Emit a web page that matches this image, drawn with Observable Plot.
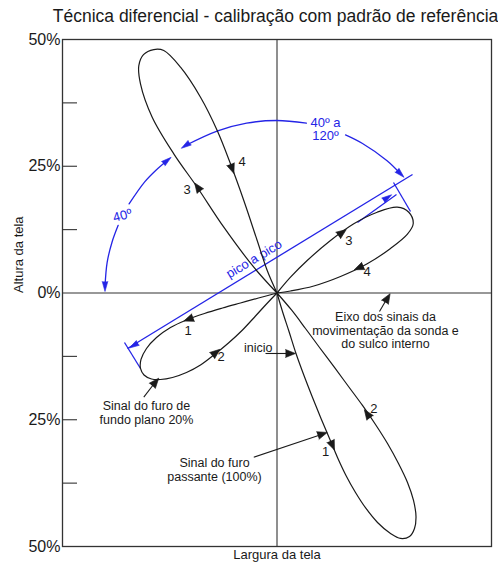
<!DOCTYPE html>
<html><head><meta charset="utf-8">
<script src="https://cdn.jsdelivr.net/npm/d3@7"></script>
<script src="https://cdn.jsdelivr.net/npm/@observablehq/plot@0.6"></script>
<style>body{margin:0;background:#fff;}</style>
</head><body><div id="chart"></div>
<script>
// ---- data (screen width / height in %) ----
const titleText = "Técnica diferencial - calibração com padrão de referência";
const xLabel = "Largura da tela";
const yLabel = "Altura da tela";
const yTickValues = [50, 25, 0, -25, -50];
const yTickLabels = ["50%", "25%", "0%", "25%", "50%"];
const yMinorTicks = [37.5, 25, 12.5, -12.5, -25, -37.5];

// lobes traced by the probe signals [x, y]
const lobeUpperLeft = [[0,0],[-5.41,5.09],[-12.40,12.98],[-18.60,20.86],[-24.06,27.45],[-29.09,34.67],[-31.82,41.25],[-32.21,44.86],[-31.12,47.03],[-28.72,48.02],[-26.39,47.82],[-22.49,44.53],[-17.83,38.61],[-13.94,32.05],[-10.84,25.48],[-7.74,18.24],[-4.62,10.35],[-2.28,4.44],[0,0]];
const lobeRight = [[0,0],[3.15,3.12],[7.04,6.41],[12.47,10.35],[17.90,13.65],[23.36,15.93],[28.02,16.92],[30.72,15.93],[31.75,13.65],[30.35,11.54],[26.46,8.78],[21.03,5.76],[14.80,3.25],[8.58,1.38],[3.15,0.39],[0,0]];
const lobeLowerLeft = [[0,0],[-4.31,-0.99],[-8.51,-1.97],[-12.70,-2.96],[-16.90,-4.04],[-21.10,-5.32],[-24.83,-6.80],[-28.09,-8.78],[-30.42,-10.94],[-31.70,-13.11],[-31.82,-14.89],[-31.00,-16.17],[-29.25,-16.96],[-27.16,-17.06],[-24.36,-16.66],[-21.10,-15.68],[-17.83,-14.20],[-14.57,-12.13],[-11.31,-9.86],[-8.04,-7.30],[-5.01,-4.54],[-2.45,-2.17],[0,0]];
const lobeLower = [[0,0],[1.28,-3.65],[2.80,-7.59],[4.43,-11.93],[6.29,-16.27],[8.28,-20.61],[10.26,-24.75],[12.24,-28.70],[14.10,-32.44],[16.08,-35.99],[18.30,-39.35],[20.75,-42.50],[23.43,-45.26],[26.46,-47.43],[28.79,-48.41],[30.89,-48.02],[32.05,-46.44],[32.40,-44.07],[31.82,-40.92],[30.42,-37.37],[28.32,-33.62],[25.76,-29.68],[22.96,-25.93],[19.93,-22.18],[16.67,-18.44],[13.40,-14.69],[9.91,-10.75],[6.64,-7.00],[3.38,-3.35],[0,0]];

// direction arrowheads on the lobes [x, y, heading°]
const arrowheadsBlack = [[-18.53,20.90,-35],[-10.44,24.49,160],[15.20,11.93,54],[19.07,4.97,-113],[-20.63,-5.19,-110],[-14.22,-11.73,51],[12.94,-30.07,157],[21.03,-23.82,-35]];
const stepLabels = ["3","4","3","4","1","2","1","2"];
const stepX = [-20.93,-8.11,16.74,21.03,-20.70,-13.01,11.31,22.56];
const stepY = [20.35,25.79,10.35,4.10,-7.40,-12.52,-31.39,-22.84];

// callouts
const noteText = ["Eixo dos sinais da\nmovimentação da sonda e\ndo sulco interno","inicio","Sinal do furo de\nfundo plano 20%","Sinal do furo\npassante (100%)"];
const noteX = [25.29,-4.38,-30.42,-14.57];
const noteY = [-7.40,-10.85,-23.61,-34.81];
const noteShafts = [[-2.68,-11.93,2.68,-11.93],[23.89,-3.65,25.52,-1.28],[-31.05,-20.55,-28.79,-18.04],[-5.41,-32.38,9.67,-28.10]];
const noteHeads = [[3.15,-11.93,90],[25.76,-0.99,31],[-28.32,-17.55,40],[10.61,-27.81,72]];

// blue dimensioning
const blueLines = [[-34.85,-10.94,31.59,23.37],[18.76,13.90,27.86,19.42],[-35.55,-9.76,-31.82,-14.89],[27.16,21.79,31.12,16.07]];
const arc1a = [[-40.09,1.28],[-39.60,5.99],[-38.46,10.02],[-37.02,13.35]];
const arc1b = [[-34.48,17.57],[-30.84,21.91],[-28.28,24.16],[-25.59,26.13]];
const arc2a = [[-21.33,29.09],[-13.82,31.97],[-7.09,33.50],[0,34.02],[6.85,33.50]];
const arc2b = [[15.97,31.18],[19.93,29.48],[25.66,26.09],[28.79,23.51]];
const arrowheadsBlue = [[-40.09,1.28,180],[-25.59,26.13,51],[-21.33,29.09,-124],[28.79,23.51,135],[-33.45,-10.35,-121],[25.76,18.83,56]];
const blueText = ["40º","40º a","120º","pico a pico"];
const blueX = [-36.01,11.31,11.31,-5.35];
const blueY = [15.28,33.62,31.06,6.70];
const blueRotate = [-15,0,0,-31];

// ---- drawing ----
const ink = "#1a1a1a";
const blue = "#2424e6";
const xy = {x: d => d[0], y: d => d[1]};
const seg = {x1: d => d[0], y1: d => d[1], x2: d => d[2], y2: d => d[3]};
const head = (color, len, rad) => ({x: d => d[0], y: d => d[1], rotate: d => d[2], length: len, r: rad, shape: "spike", anchor: "middle", fill: color, stroke: color, strokeWidth: 0.6});

const chart = Plot.plot({
  width: 498, height: 562,
  marginLeft: 62, marginRight: 7, marginTop: 39, marginBottom: 16,
  x: {domain: [-50, 50], axis: null},
  y: {domain: [-50, 50], axis: null},
  style: {fontFamily: "'Liberation Sans', Arial, sans-serif", background: "#fff", color: ink},
  marks: [
    Plot.frame({stroke: "#333", strokeWidth: 1.3}),
    Plot.ruleX([0], {stroke: "#333", strokeWidth: 1.1}),
    Plot.ruleY([0], {stroke: "#333", strokeWidth: 1.1}),
    Plot.ruleY(yMinorTicks, {x1: -50, x2: -46.5, stroke: "#333", strokeWidth: 1.1}),
    Plot.text(yTickValues, {x: -50, y: d => d, text: (d, i) => yTickLabels[i], textAnchor: "end", dx: -2, fontSize: 16}),
    Plot.text([titleText], {frameAnchor: "top", dy: -23.5, dx: -1.5, lineAnchor: "middle", fontSize: 17.5}),
    Plot.text([xLabel], {frameAnchor: "bottom", dy: 8, lineAnchor: "middle", fontSize: 13}),
    Plot.text([yLabel], {frameAnchor: "left", dx: -44, rotate: -90, lineAnchor: "middle", fontSize: 13}),

    // blue dimensioning
    Plot.link(blueLines, {...seg, stroke: blue, strokeWidth: 1.3}),
    Plot.line(arc1a, {...xy, curve: "catmull-rom", stroke: blue, strokeWidth: 1.3}),
    Plot.line(arc1b, {...xy, curve: "catmull-rom", stroke: blue, strokeWidth: 1.3}),
    Plot.line(arc2a, {...xy, curve: "catmull-rom", stroke: blue, strokeWidth: 1.3}),
    Plot.line(arc2b, {...xy, curve: "catmull-rom", stroke: blue, strokeWidth: 1.3}),
    Plot.vector(arrowheadsBlue, head(blue, 10, 2.8)),
    Plot.text(blueText, {x: (d, i) => blueX[i], y: (d, i) => blueY[i], rotate: (d, i) => blueRotate[i], text: d => d, fill: blue, fontSize: 13}),

    // lobes
    Plot.line(lobeUpperLeft, {...xy, curve: "catmull-rom", stroke: ink, strokeWidth: 1.2}),
    Plot.line(lobeRight, {...xy, curve: "catmull-rom", stroke: ink, strokeWidth: 1.2}),
    Plot.line(lobeLowerLeft, {...xy, curve: "catmull-rom", stroke: ink, strokeWidth: 1.2}),
    Plot.line(lobeLower, {...xy, curve: "catmull-rom", stroke: ink, strokeWidth: 1.2}),
    Plot.vector(arrowheadsBlack, head(ink, 10, 4)),
    Plot.text(stepLabels, {x: (d, i) => stepX[i], y: (d, i) => stepY[i], text: d => d, fontSize: 13}),

    // callouts
    Plot.link(noteShafts, {...seg, stroke: ink, strokeWidth: 1.1}),
    Plot.vector(noteHeads, head(ink, 10, 4)),
    Plot.text(noteText, {x: (d, i) => noteX[i], y: (d, i) => noteY[i], text: d => d, fontSize: 12.5, lineHeight: 1.08})
  ]
});
document.getElementById("chart").appendChild(chart);
</script>
</body></html>
